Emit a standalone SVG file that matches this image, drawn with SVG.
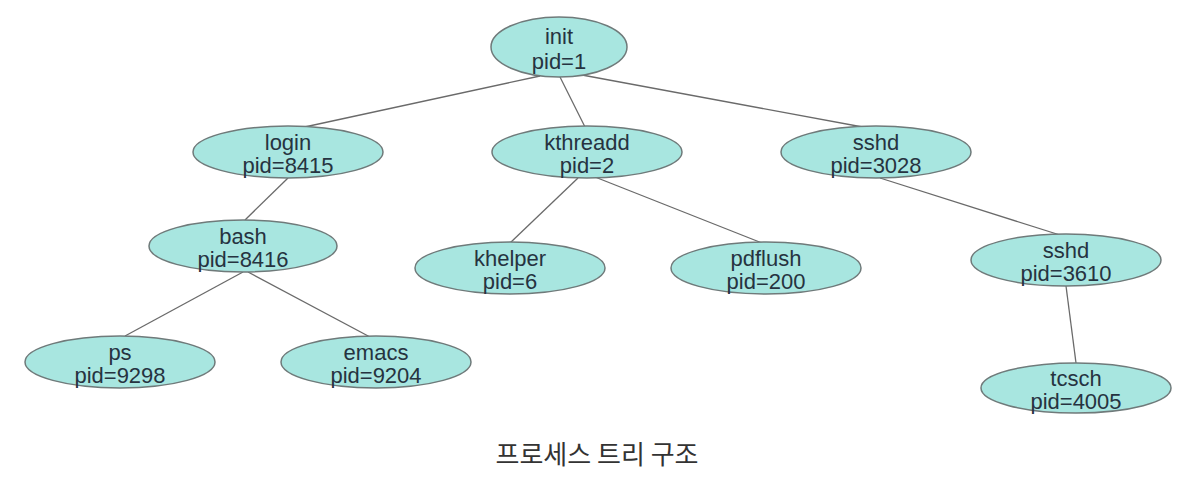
<svg xmlns="http://www.w3.org/2000/svg" width="1192" height="486" viewBox="0 0 1192 486">
<style>
.n ellipse{fill:#a8e6e0;stroke:#6f7a7a;stroke-width:1.5}
.n text{font-family:"Liberation Sans",Arial,sans-serif;font-size:22px;fill:#263340;text-anchor:middle}
.e line{stroke:#6a6a6a;stroke-width:1.3}
.cap{font-family:"Noto Sans CJK KR","Noto Sans",sans-serif;font-size:26px;fill:#333;text-anchor:middle}
</style>
<rect width="1192" height="486" fill="#fff"/>
<g id="edges" class="e">
<line x1="540" y1="76" x2="300" y2="128"/>
<line x1="560" y1="77" x2="585" y2="127"/>
<line x1="582" y1="75" x2="868" y2="128"/>
<line x1="288" y1="178" x2="245" y2="220"/>
<line x1="578" y1="178" x2="510" y2="243"/>
<line x1="595" y1="177" x2="762" y2="243"/>
<line x1="243" y1="272" x2="125" y2="336"/>
<line x1="248" y1="272" x2="370" y2="337"/>
<line x1="880" y1="178" x2="1060" y2="235"/>
<line x1="1066" y1="286" x2="1076" y2="363"/>
</g>
<g id="init" class="n"><ellipse cx="559" cy="47" rx="68" ry="30"/><text x="559" y="44">init</text><text x="559" y="69">pid=1</text></g>
<g id="login" class="n"><ellipse cx="288" cy="152" rx="95" ry="26"/><text x="288" y="150">login</text><text x="288" y="173">pid=8415</text></g>
<g id="kthreadd" class="n"><ellipse cx="587" cy="152" rx="95" ry="26"/><text x="587" y="150">kthreadd</text><text x="587" y="173">pid=2</text></g>
<g id="sshd" class="n"><ellipse cx="876" cy="152" rx="95" ry="26"/><text x="876" y="150">sshd</text><text x="876" y="173">pid=3028</text></g>
<g id="bash" class="n"><ellipse cx="243" cy="246" rx="94" ry="26"/><text x="243" y="244">bash</text><text x="243" y="267">pid=8416</text></g>
<g id="khelper" class="n"><ellipse cx="510" cy="268" rx="95" ry="26"/><text x="510" y="266">khelper</text><text x="510" y="289">pid=6</text></g>
<g id="pdflush" class="n"><ellipse cx="766" cy="268" rx="95" ry="26"/><text x="766" y="266">pdflush</text><text x="766" y="289">pid=200</text></g>
<g id="sshd2" class="n"><ellipse cx="1066" cy="260" rx="95" ry="26"/><text x="1066" y="258">sshd</text><text x="1066" y="281">pid=3610</text></g>
<g id="ps" class="n"><ellipse cx="120" cy="362" rx="95" ry="26"/><text x="120" y="360">ps</text><text x="120" y="383">pid=9298</text></g>
<g id="emacs" class="n"><ellipse cx="376" cy="362" rx="95" ry="26"/><text x="376" y="360">emacs</text><text x="376" y="383">pid=9204</text></g>
<g id="tcsch" class="n"><ellipse cx="1076" cy="388" rx="95" ry="25"/><text x="1076" y="386">tcsch</text><text x="1076" y="409">pid=4005</text></g>
<text class="cap" x="597" y="464">프로세스 트리 구조</text>
</svg>
